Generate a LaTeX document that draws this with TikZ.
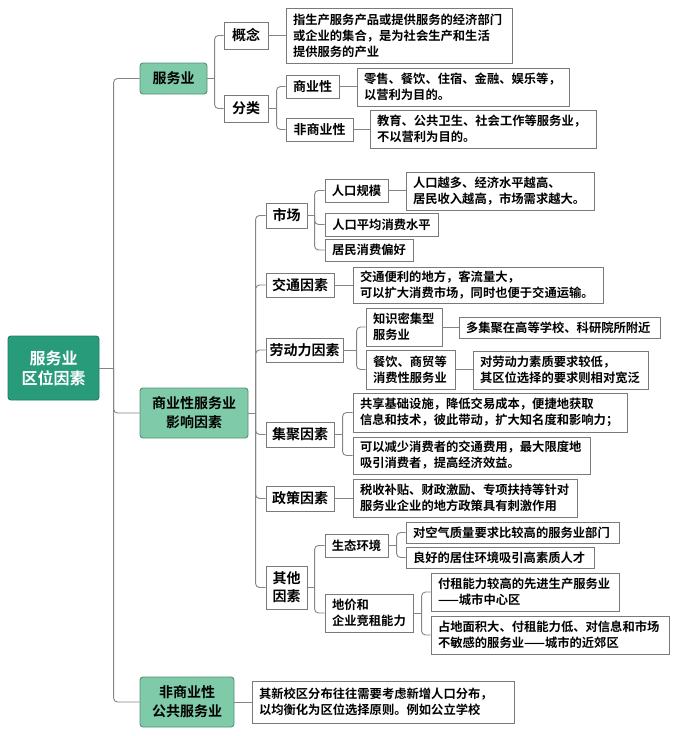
\documentclass[tikz,border=0pt]{standalone}
\usepackage{fontspec}
\setmainfont{Noto Sans CJK SC}[BoldFont={Noto Sans CJK SC Bold}]
\definecolor{rootc}{HTML}{289B7B}
\definecolor{lightc}{HTML}{7FCBA9}
\definecolor{linec}{HTML}{858585}
\definecolor{bordc}{HTML}{7A7A7A}
\tikzset{
  conn/.style={draw=linec, line width=0.9pt, rounded corners=4pt},
  base/.style={draw=bordc, line width=0.9pt, fill=white, inner sep=0pt, font=\bfseries},
  rootbox/.style={base, fill=rootc, draw=rootc!80!black, text=white, rounded corners=3pt, align=center, font=\bfseries\fontsize{16}{20}\selectfont},
  greenbox/.style={base, fill=lightc, draw=lightc!70!black, rounded corners=3pt, align=center, font=\bfseries\fontsize{14}{19}\selectfont},
  labbox/.style={base, align=center, font=\bfseries\fontsize{14}{18}\selectfont},
  subbox/.style={base, align=center, font=\bfseries\fontsize{12.3}{16}\selectfont},
  subbig/.style={base, align=center, font=\bfseries\fontsize{13}{16}\selectfont},
  descbox/.style={base, align=left, font=\bfseries\fontsize{12.3}{16}\selectfont},
}
% centered box from (x1,y1) to (x2,y2)
\newcommand\bx[7][labbox]{%
  \pgfmathsetmacro\bxw{#5-#3}\pgfmathsetmacro\bxh{#6-#4}%
  \pgfmathsetmacro\bxcx{(#3+#5)/2}\pgfmathsetmacro\bxcy{(#4+#6)/2}%
  \node[#1, minimum width=\bxw pt, minimum height=\bxh pt] (#2) at (\bxcx,\bxcy) {#7};}
% left-aligned box
\newcommand\dx[7][descbox]{%
  \pgfmathsetmacro\bxw{#5-#3}\pgfmathsetmacro\bxh{#6-#4}\pgfmathsetmacro\bxt{#5-#3-14}%
  \pgfmathsetmacro\bxcx{(#3+#5)/2}\pgfmathsetmacro\bxcy{(#4+#6)/2}%
  \node[#1, inner xsep=7pt, text width=\bxt pt, minimum width=\bxw pt, minimum height=\bxh pt] (#2) at (\bxcx,\bxcy) {#7};}
\newcommand\stub[3]{\draw[conn] (#1.east) -- ([xshift=-#3]#2.west |- #1.east);}
\newcommand\br[3]{\draw[conn] ([xshift=-#3]#2.west |- #1.east) |- (#2.west);}
\newcommand\st[2]{\draw[conn] (#1.east) -- (#1.east -| #2.west);}
\begin{document}
\begin{tikzpicture}[x=1pt,y=-1pt]
\useasboundingbox[fill=white] (0,0) rectangle (676,736);
% root
\bx[rootbox]{root}{8}{336}{99}{400}{服务业\\区位因素}
% level 1
\bx[greenbox]{fwy}{140}{63}{207}{94}{服务业}
\bx[greenbox]{syx}{140}{388}{248}{438}{商业性服务业\\影响因素}
\bx[greenbox]{fsy}{140}{677}{234}{727}{非商业性\\公共服务业}
% 服务业 branch
\bx{gn}{224}{22}{268}{49}{概念}
\bx{fl}{224}{95}{268}{122}{分类}
\dx{gnd}{286}{8}{512}{63}{指生产服务产品或提供服务的经济部门\\或企业的集合，是为社会生产和生活\\提供服务的产业}
\bx[subbig]{syxx}{286}{75}{339}{98}{商业性}
\bx[subbig]{fsyx}{286}{118}{353}{141}{非商业性}
\dx{syxd}{357}{68}{569}{106}{零售、餐饮、住宿、金融、娱乐等，\\以营利为目的。}
\dx{fsyxd}{370}{110}{596}{148}{教育、公共卫生、社会工作等服务业，\\不以营利为目的。}
% 商业性服务业影响因素 branch
\bx{sc}{266}{203}{307}{228}{市场}
\bx{jt}{266}{273}{334}{297}{交通因素}
\bx{ldl}{266}{338}{343}{362}{劳动力因素}
\bx{jj}{266}{422}{334}{447}{集聚因素}
\bx{zc}{266}{486}{334}{511}{政策因素}
\bx{qt}{266}{566}{307}{609}{其他\\因素}
% 市场
\bx[subbox]{rkgm}{325}{179}{388}{202}{人口规模}
\bx[subbox]{rkpj}{325}{213}{438}{236}{人口平均消费水平}
\bx[subbox]{jmxf}{325}{239}{413}{261}{居民消费偏好}
\dx{rkgmd}{406}{172}{594}{210}{人口越多、经济水平越高、\\居民收入越高，市场需求越大。}
% 交通
\dx{jtd}{353}{267}{603}{303}{交通便利的地方，客流量大，\\可以扩大消费市场，同时也便于交通运输。}
% 劳动力
\dx{zsmj}{366}{308}{442}{346}{知识密集型\\服务业}
\dx{cy}{366}{350}{455}{389}{餐饮、商贸等\\消费性服务业}
\dx{zsmjd}{459}{317}{660}{338}{多集聚在高等学校、科研院所附近}
\dx{cyd}{473}{351}{648}{389}{对劳动力素质要求较低，\\其区位选择的要求则相对宽泛}
% 集聚
\dx{jja}{353}{393}{627}{432}{共享基础设施，降低交易成本，便捷地获取\\信息和技术，彼此带动，扩大知名度和影响力；}
\dx{jjb}{353}{437}{590}{474}{可以减少消费者的交通费用，最大限度地\\吸引消费者，提高经济效益。}
% 政策
\dx{zcd}{353}{479}{577}{517}{税收补贴、财政激励、专项扶持等针对\\服务业企业的地方政策具有刺激作用}
% 其他
\bx[subbox]{sthj}{325}{534}{388}{557}{生态环境}
\dx{djh}{325}{594}{413}{632}{地价和\\企业竞租能力}
\dx{stha}{406}{522}{619}{543}{对空气质量要求比较高的服务业部门}
\dx{sthb}{406}{547}{594}{568}{良好的居住环境吸引高素质人才}
\dx{djha}{431}{573}{619}{611}{付租能力较高的先进生产服务业\\——城市中心区}
\dx{djhb}{431}{616}{669}{654}{占地面积大、付租能力低、对信息和市场\\不敏感的服务业——城市的近郊区}
% 非商业性
\dx{fsyd}{252}{681}{514}{723}{其新校区分布往往需要考虑新增人口分布，\\以均衡化为区位选择原则。例如公立学校}
% connectors
\stub{root}{fwy}{26pt}
\br{root}{fwy}{26pt}\br{root}{syx}{26pt}\br{root}{fsy}{26pt}
\stub{fwy}{gn}{9pt}
\br{fwy}{gn}{9pt}\br{fwy}{fl}{9pt}
\st{gn}{gnd}
\stub{fl}{syxx}{9pt}
\br{fl}{syxx}{9pt}\br{fl}{fsyx}{9pt}
\st{syxx}{syxd}\st{fsyx}{fsyxd}
\stub{syx}{sc}{10pt}
\br{syx}{sc}{10pt}\br{syx}{jt}{10pt}\br{syx}{ldl}{10pt}\br{syx}{jj}{10pt}\br{syx}{zc}{10pt}\br{syx}{qt}{10pt}
\stub{sc}{rkgm}{10pt}
\br{sc}{rkgm}{10pt}\br{sc}{rkpj}{10pt}\br{sc}{jmxf}{10pt}
\st{rkgm}{rkgmd}
\st{jt}{jtd}
\stub{ldl}{zsmj}{9pt}
\br{ldl}{zsmj}{9pt}\br{ldl}{cy}{9pt}
\st{zsmj}{zsmjd}\st{cy}{cyd}
\stub{jj}{jja}{10pt}
\br{jj}{jja}{10pt}\br{jj}{jjb}{10pt}
\st{zc}{zcd}
\stub{qt}{sthj}{10pt}
\br{qt}{sthj}{10pt}\br{qt}{djh}{10pt}
\stub{sthj}{stha}{9pt}
\br{sthj}{stha}{9pt}\br{sthj}{sthb}{9pt}
\stub{djh}{djha}{9pt}
\br{djh}{djha}{9pt}\br{djh}{djhb}{9pt}
\st{fsy}{fsyd}
\end{tikzpicture}
\end{document}
